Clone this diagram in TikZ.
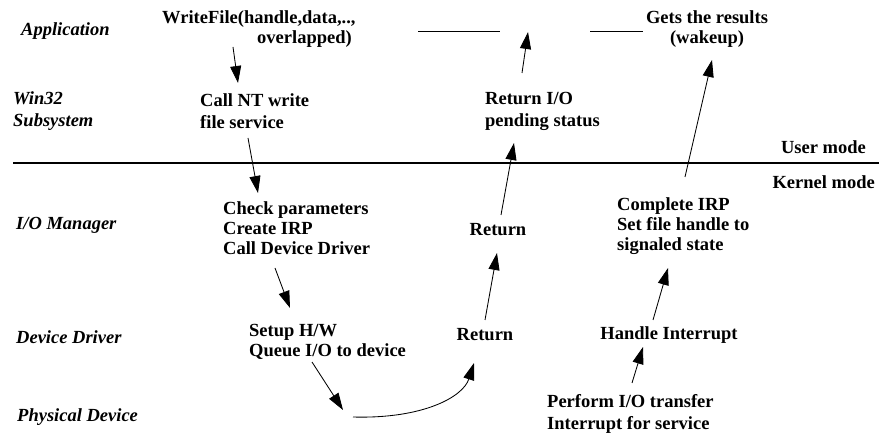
\documentclass[tikz,border=0pt]{standalone}
\usepackage{fontspec}
\setmainfont{Liberation Serif}
\usetikzlibrary{arrows.meta}
\begin{document}
\begin{tikzpicture}[x=1pt,y=-1pt,
  txt/.style={font=\fontsize{18.5}{20}\selectfont\bfseries, inner sep=0pt, align=left},
  lay/.style={font=\fontsize{18.5}{21}\selectfont\bfseries\itshape, inner sep=0pt, align=left, anchor=west},
  arr/.style={line width=0.85pt, -{Triangle[length=17pt,width=11pt]}},
  blank/.style={line width=0.9pt}]
\fill[white] (0,0) rectangle (879,438);
\useasboundingbox (0,0) rectangle (879,438);

% layer labels
\node[lay] (app) at (21,31) {Application};
\node[lay] (win) at (13,111) {Win32\\[1pt]Subsystem};
\node[lay] (iom) at (16,225) {I/O Manager};
\node[lay] (dd) at (16,337) {Device Driver};
\node[lay] (pd) at (17,417) {Physical Device};

% user / kernel boundary
\draw[line width=2.9pt] (13,163) -- (879,163);
\node[txt, anchor=east] (um) at (866,147) {User mode};
\node[txt, anchor=east] (km) at (875,182) {Kernel mode};

% steps of the write request
\node[txt, anchor=west] (wf) at (162,29) {WriteFile(handle,data,..,\\\hspace*{95pt}overlapped)};
\node[txt, anchor=west] (cnt) at (200,111) {Call NT write\\[2pt]file service};
\node[txt, anchor=west] (chk) at (223,228) {Check parameters\\Create IRP\\Call Device Driver};
\node[txt, anchor=west] (setup) at (249,342) {Setup H/W\\Queue I/O to device};
\coordinate (hw) at (348,415);
\node[txt] (ret1) at (485,335) {Return};
\node[txt] (ret2) at (498,230) {Return};
\node[txt, anchor=west] (rio) at (485,111) {Return I/O\\[2pt]pending status};
\node[txt, align=center] (gets) at (707,29) {Gets the results\\(wakeup)};
\node[txt, anchor=west] (cirp) at (617,226) {Complete IRP\\Set file handle to\\signaled state};
\node[txt] (hi) at (669,335) {Handle Interrupt};
\node[txt, anchor=west] (perf) at (547,414) {Perform I/O transfer\\[2pt]Interrupt for service};

% idle time in the application
\draw[blank] (418,31) -- (500,31);
\draw[blank] (590,31) -- (643,31);

% request path downwards
\draw[arr] ([shift={(71,18)}]wf.west) -- ([shift={(38,-28)}]cnt.west);
\draw[arr] ([shift={(48,27)}]cnt.west) -- ([shift={(35,-35)}]chk.west);
\draw[arr] ([shift={(52,40)}]chk.west) -- ([shift={(41,-34)}]setup.west);
\draw[arr] ([shift={(63,20)}]setup.west) -- ([shift={(-5,-5)}]hw);
\draw[arr] ([shift={(5,2)}]hw) .. controls ([shift={(75,4)}]hw) and ([shift={(115,-18)}]hw) .. ([shift={(-11,28)}]ret1.center);

% immediate return with pending status
\draw[arr] ([shift={(0,-15)}]ret1.center) -- ([shift={(-1,23)}]ret2.center);
\draw[arr] ([shift={(3,-15)}]ret2.center) -- ([shift={(29,32)}]rio.west);
\draw[arr] ([shift={(37,-38)}]rio.west) -- ([shift={(43,-79)}]rio.west);

% completion path upwards
\draw[arr] ([shift={(85,-31)}]perf.west) -- ([shift={(-26,12)}]hi.center);
\draw[arr] ([shift={(-16,-15)}]hi.center) -- ([shift={(51,42)}]cirp.west);
\draw[arr] ([shift={(68,-49)}]cirp.west) -- ([shift={(5,31)}]gets.center);
\end{tikzpicture}
\end{document}
